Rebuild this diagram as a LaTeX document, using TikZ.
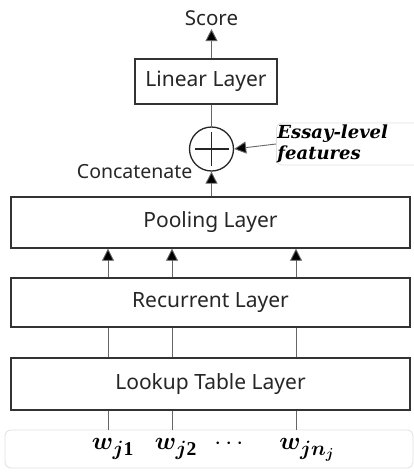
\documentclass[tikz,border=0pt]{standalone}
\usepackage{amsmath, amssymb, bm}
\usepackage{fontspec}
\setmainfont{Liberation Serif}
\setsansfont{Noto Sans}
\newfontfamily\essayfont{DejaVu Serif}
\usetikzlibrary{arrows.meta,positioning}

\begin{document}
\begin{tikzpicture}[
    x=1pt, y=-1pt,
    layer/.style={draw=black!80, line width=1.4pt, minimum width=399pt, font=\sffamily\fontsize{21}{23}\selectfont, text=black!85},
    conn/.style={draw=black!60, line width=0.9pt, -{Triangle[length=12pt,width=12pt,fill=black]}},
    link/.style={draw=black!60, line width=0.9pt},
    soft/.style={draw=black!12, line width=0.8pt, rounded corners=6pt},
    word/.style={font=\fontsize{28}{30}\selectfont}
  ]
    \useasboundingbox (0,0) rectangle (414,472);

    %=== 入力語(下の枠) ===%
    \draw[soft] (5,430) rectangle (413,468);
    \node[word] (w1) at (113,449) {$\bm{w}_{\bm{j}\mathbf{1}}$};
    \node[word] (w2) at (176,449) {$\bm{w}_{\bm{j}\mathbf{2}}$};
    \node[word] (wd) at (231,444) {$\cdots$};
    \node[word] (wn) at (307,450) {$\bm{w}_{\bm{j}\bm{n}_{\bm{j}}}$};

    %=== 層 ===%
    \node[layer, minimum height=52pt] (look) at (210.5,384) {Lookup Table Layer};
    \node[layer, minimum height=49pt] (rec)  at (210.5,302.5) {Recurrent Layer};
    \node[layer, minimum height=51pt] (pool) at (210.5,222.5) {Pooling Layer};
    \node[layer, minimum width=142pt, minimum height=45pt] (lin) at (206,81.5) {Linear Layer};

    %=== 結合(+) ===%
    \node[circle, draw=black!85, line width=1.3pt, minimum size=44pt, inner sep=0pt] (cat) at (211.5,149) {};
    \draw[black!85, line width=1.3pt] ([xshift=-17pt]cat.center) -- ([xshift=17pt]cat.center);
    \draw[black!85, line width=1.3pt] ([yshift=-17pt]cat.center) -- ([yshift=17pt]cat.center);
    \node[font=\sffamily\fontsize{19.5}{21}\selectfont, text=black!85, anchor=east] (catlab) at (196,172) {Concatenate};

    \node[soft, text width=146pt, minimum height=42pt, align=left, inner sep=0pt,
          font=\essayfont\bfseries\itshape\fontsize{18}{21}\selectfont, anchor=west] (ess) at (276,144)
      {\hspace*{1pt}Essay-level\\\hspace*{1pt}features};

    \node[font=\sffamily\fontsize{20.5}{22}\selectfont, text=black!85] (score) at (211.5,18) {Score};

    %=== 矢印 ===%
    \foreach \xx in {108,172,296}{
      \draw[link] (\xx,430) -- (look.south -| \xx,0);
      \draw[link] (look.north -| \xx,0) -- (rec.south -| \xx,0);
      \draw[conn] (rec.north -| \xx,0) -- (pool.south -| \xx,0);
    }
    \draw[conn] (pool.north -| cat) -- (cat.south);
    \draw[link] (cat.north) -- (lin.south -| cat);
    \draw[conn] (lin.north -| cat) -- (score.south);
    \draw[conn] (ess.west) -- (cat.east);

  \end{tikzpicture}
\end{document}
